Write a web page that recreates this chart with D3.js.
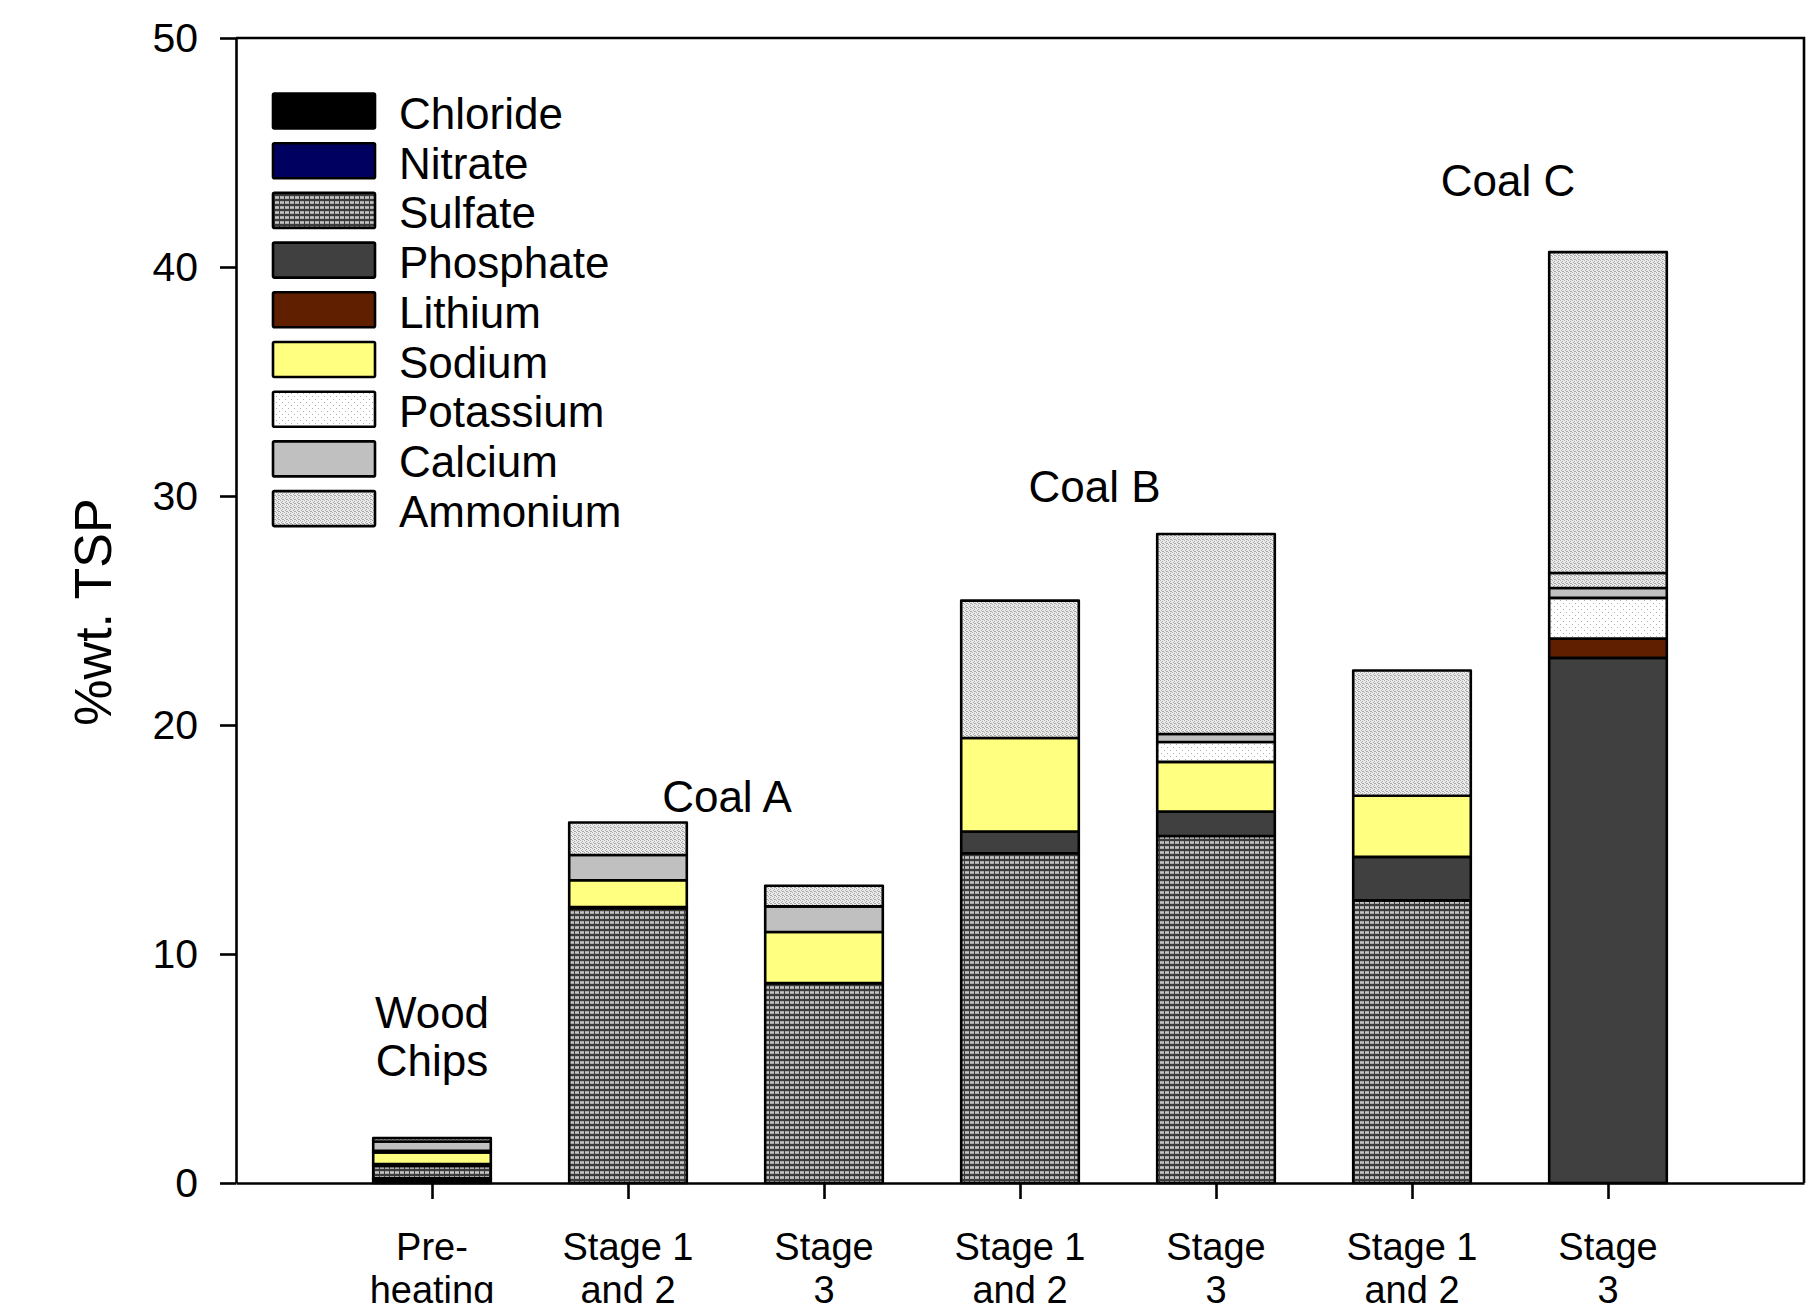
<!DOCTYPE html>
<html>
<head>
<meta charset="utf-8">
<script src="https://cdn.jsdelivr.net/npm/d3@7"></script>
<style>
  html, body { margin: 0; padding: 0; background: #fff; }
  svg { display: block; font-family: "Liberation Sans", Arial, sans-serif; }
</style>
</head>
<body>
<svg id="chart" width="1808" height="1303"></svg>
<script>
// ---------------- DATA ----------------
const categories = ["Pre-heating", "Coal A Stage 1 and 2", "Coal A Stage 3", "Coal B Stage 1 and 2", "Coal B Stage 3", "Coal C Stage 1 and 2", "Coal C Stage 3"];
const tickLabels = [["Pre-", "heating"], ["Stage 1", "and 2"], ["Stage", "3"], ["Stage 1", "and 2"], ["Stage", "3"], ["Stage 1", "and 2"], ["Stage", "3"]];

const chloride   = [0.15, 0,     0,    0,    0,     0,     0];
const nitrate    = [0.05, 0,     0,    0,    0,     0,     0];
const sulfate    = [0.55, 12.0,  8.73, 14.4, 15.15, 12.34, 0];
const phosphate  = [0.08, 0.05,  0,    0.95, 1.07,  1.9,   22.93];
const lithium    = [0,    0,     0,    0,    0,     0,     0.84];
const sodium     = [0.5,  1.17,  2.23, 4.08, 2.17,  2.67,  0];
const potassium  = [0.08, 0,     0,    0,    0.87,  0,     1.78];
const calcium    = [0.4,  1.1,   1.12, 0,    0.35,  0,     0.43];
const unlabelled = [0,    0,     0,    0,    0,     0,     0.66];
const ammonium   = [0.15, 1.42,  0.9,  6.0,  8.73,  5.47,  14.01];

const seriesNames = ["Chloride", "Nitrate", "Sulfate", "Phosphate", "Lithium", "Sodium", "Potassium", "Calcium", "Unlabelled", "Ammonium"];
const seriesValues = [chloride, nitrate, sulfate, phosphate, lithium, sodium, potassium, calcium, unlabelled, ammonium];
const legendNames = ["Chloride", "Nitrate", "Sulfate", "Phosphate", "Lithium", "Sodium", "Potassium", "Calcium", "Ammonium"];

const yTicks = [0, 10, 20, 30, 40, 50];
const yTitle = "%wt. TSP";
const groupLabels = ["Wood\nChips", "Coal A", "Coal B", "Coal C"];
const groupLabelPos = [0, 1.505, 3.38, 5.49];     // category index position
const groupLabelValue = [6.77, 16.2, 29.72, 43.1]; // y value of first baseline

// ---------------- STYLE ----------------
const W = 1808, H = 1303;
const plotL = 236, plotR = 1804, plotT = 38, plotB = 1183;
const svg = d3.select("#chart");
svg.append("rect").attr("width", W).attr("height", H).attr("fill", "#fff");

const defs = svg.append("defs");
// Sulfate: brick-like horizontal dashes
const pSul = defs.append("pattern").attr("id", "pSulfate").attr("patternUnits", "userSpaceOnUse")
  .attr("width", 5).attr("height", 5);
pSul.append("rect").attr("width", 5).attr("height", 5).attr("fill", "#3c3c3c");
pSul.append("rect").attr("x", 0).attr("y", 1).attr("width", 4).attr("height", 3).attr("fill", "#a9a9a9");
pSul.append("rect").attr("x", 0).attr("y", 2).attr("width", 4).attr("height", 1).attr("fill", "#c4c4c4");
// Ammonium: dense grey stipple
const pAmm = defs.append("pattern").attr("id", "pAmmonium").attr("patternUnits", "userSpaceOnUse")
  .attr("width", 4).attr("height", 4);
pAmm.append("rect").attr("width", 4).attr("height", 4).attr("fill", "#ebebeb");
[[0,0],[2,1],[1,2],[3,3],[2,3]].forEach(([px,py]) =>
  pAmm.append("rect").attr("x", px).attr("y", py).attr("width", 1).attr("height", 1).attr("fill", "#a8a8a8"));
// Potassium: white with sparse dots
const pPot = defs.append("pattern").attr("id", "pPotassium").attr("patternUnits", "userSpaceOnUse")
  .attr("width", 6).attr("height", 6);
pPot.append("rect").attr("width", 6).attr("height", 6).attr("fill", "#ffffff");
[[0,0],[3,3]].forEach(([px,py]) =>
  pPot.append("rect").attr("x", px).attr("y", py).attr("width", 1).attr("height", 1).attr("fill", "#b0b0b0"));

const fills = {
  "Chloride": "#000000",
  "Nitrate": "#000060",
  "Sulfate": "url(#pSulfate)",
  "Phosphate": "#404040",
  "Lithium": "#602000",
  "Sodium": "#ffff80",
  "Potassium": "url(#pPotassium)",
  "Calcium": "#c0c0c0",
  "Unlabelled": "url(#pAmmonium)",
  "Ammonium": "url(#pAmmonium)"
};

// ---------------- SCALES ----------------
const x = d3.scalePoint().domain(categories).range([plotL, plotR]).padding(1);
const xi = d3.scaleLinear().domain([-1, categories.length]).range([plotL, plotR]);
const y = d3.scaleLinear().domain([0, 50]).range([plotB, plotT]);
const barW = x.step() * 0.6;

// ---------------- STACK ----------------
const table = categories.map((c, i) => {
  const row = { category: c };
  seriesNames.forEach((s, k) => row[s] = seriesValues[k][i]);
  return row;
});
const stacked = d3.stack().keys(seriesNames)(table);

const gBars = svg.append("g");
stacked.forEach(layer => {
  gBars.append("g")
    .selectAll("rect")
    .data(layer.filter(d => d[1] - d[0] > 0))
    .join("rect")
    .attr("x", d => x(d.data.category) - barW / 2)
    .attr("y", d => y(d[1]))
    .attr("width", barW)
    .attr("height", d => y(d[0]) - y(d[1]))
    .attr("fill", fills[layer.key])
    .attr("stroke", "#000")
    .attr("stroke-width", 2.6)
    .attr("stroke-linejoin", "round");
});

// ---------------- AXES ----------------
const yAxis = svg.append("g").attr("transform", `translate(${plotL},0)`)
  .call(d3.axisLeft(y).tickValues(yTicks).tickSize(16).tickPadding(22).tickSizeOuter(0));
yAxis.selectAll("text").attr("font-size", 41).attr("fill", "#000")
  .attr("font-family", "'Liberation Sans', Arial, sans-serif");
yAxis.selectAll("line, path").attr("stroke", "#000").attr("stroke-width", 2.6);

const xAxis = svg.append("g").attr("transform", `translate(0,${plotB})`)
  .call(d3.axisBottom(x).tickSize(16).tickSizeOuter(0).tickFormat(""));
xAxis.selectAll("line, path").attr("stroke", "#000").attr("stroke-width", 2.6);

// frame top & right
svg.append("path")
  .attr("d", `M${plotL},${plotT}H${plotR}V${plotB}`)
  .attr("fill", "none").attr("stroke", "#000").attr("stroke-width", 2.6);

// x tick labels (two lines)
const xl = svg.append("g");
categories.forEach((c, i) => {
  const t = xl.append("text")
    .attr("x", x(c)).attr("y", 1260)
    .attr("text-anchor", "middle").attr("font-size", 38).attr("fill", "#000");
  tickLabels[i].forEach((line, j) => {
    t.append("tspan").attr("x", x(c)).attr("dy", j === 0 ? 0 : 43).text(line);
  });
});

// y title
svg.append("text")
  .attr("transform", `translate(93,612) rotate(-90)`)
  .attr("text-anchor", "middle").attr("dominant-baseline", "central")
  .attr("font-size", 52).attr("fill", "#000")
  .text(yTitle);

// group labels
groupLabels.forEach((lab, i) => {
  const t = svg.append("text")
    .attr("x", xi(groupLabelPos[i])).attr("y", y(groupLabelValue[i]))
    .attr("text-anchor", "middle").attr("font-size", 44).attr("fill", "#000");
  lab.split("\n").forEach((line, j) => {
    t.append("tspan").attr("x", xi(groupLabelPos[i])).attr("dy", j === 0 ? 0 : 48).text(line);
  });
});

// legend
const lg = svg.append("g");
legendNames.forEach((name, i) => {
  const ty = 93.5 + i * 49.7;
  lg.append("rect").attr("x", 273).attr("y", ty).attr("width", 102).attr("height", 35)
    .attr("fill", fills[name]).attr("stroke", "#000").attr("stroke-width", 2.6)
    .attr("rx", 1.5);
  lg.append("text").attr("x", 399).attr("y", ty + 35.5)
    .attr("font-size", 44).attr("fill", "#000").text(name);
});
</script>
</body>
</html>
